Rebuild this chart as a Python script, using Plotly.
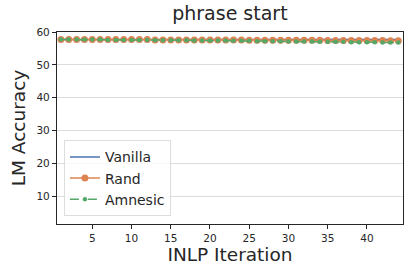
import plotly.graph_objects as go

iterations = list(range(1, 45))
vanilla = [57.7] * 44
rand = [57.7, 57.7, 57.7, 57.7, 57.7, 57.7, 57.7, 57.7, 57.7, 57.7,
        57.7, 57.7, 57.6, 57.6, 57.6, 57.6, 57.6, 57.6, 57.6, 57.6,
        57.6, 57.6, 57.6, 57.6, 57.5, 57.5, 57.5, 57.5, 57.5, 57.5,
        57.5, 57.5, 57.5, 57.5, 57.4, 57.4, 57.4, 57.4, 57.4, 57.4,
        57.4, 57.4, 57.3, 57.3]
amnesic = [57.7, 57.7, 57.7, 57.7, 57.7, 57.7, 57.6, 57.6, 57.6, 57.6,
           57.6, 57.6, 57.5, 57.5, 57.5, 57.5, 57.5, 57.4, 57.4, 57.4,
           57.4, 57.4, 57.3, 57.3, 57.3, 57.2, 57.2, 57.2, 57.2, 57.1,
           57.1, 57.1, 57.1, 57.0, 57.0, 57.0, 57.0, 56.9, 56.9, 56.9,
           56.9, 56.8, 56.8, 56.8]
y_ticks = [10, 20, 30, 40, 50, 60]
x_ticks = [5, 10, 15, 20, 25, 30, 35, 40]

font = "DejaVu Sans"
fig = go.Figure()
fig.add_trace(go.Scatter(x=iterations, y=vanilla, name="Vanilla", mode="lines",
                         line=dict(color="#4C72B0", width=1.5)))
fig.add_trace(go.Scatter(x=iterations, y=rand, name="Rand", mode="lines+markers",
                         line=dict(color="#DD8452", width=1.5),
                         marker=dict(color="#DD8452", size=7)))
fig.add_trace(go.Scatter(x=iterations, y=amnesic, name="Amnesic", mode="lines+markers",
                         line=dict(color="#55A868", width=1.5, dash="dash"),
                         marker=dict(color="#55A868", size=4.5)))

fig.update_layout(
    width=415, height=277,
    margin=dict(l=57, r=12, t=32, b=53, autoexpand=False),
    paper_bgcolor="white", plot_bgcolor="white",
    font=dict(family=font, color="#262626"),
    title=dict(text="phrase start", x=0.554, xanchor="center", y=0.975, yanchor="top",
               font=dict(size=19, color="#262626")),
    showlegend=True,
    legend=dict(x=0.02, y=0.04, xanchor="left", yanchor="bottom",
                bgcolor="rgba(255,255,255,0.8)", bordercolor="#dddddd", borderwidth=1,
                font=dict(size=14, color="#262626"), tracegroupgap=0, itemwidth=30),
)
fig.update_xaxes(range=[0.5, 44.6], tickvals=x_ticks, ticks="outside", ticklen=4,
                 tickcolor="#262626", tickfont=dict(size=10.5), automargin=False,
                 showgrid=False, zeroline=False,
                 showline=True, linecolor="#262626", linewidth=1.2, mirror=True,
                 title=dict(text="INLP Iteration", font=dict(size=18.5), standoff=2))
fig.update_yaxes(range=[1.5, 60], tickvals=y_ticks, ticks="outside", ticklen=4,
                 tickcolor="#262626", tickfont=dict(size=10.5), automargin=False,
                 showgrid=True, gridcolor="#dcdcdc", gridwidth=1, zeroline=False,
                 showline=True, linecolor="#262626", linewidth=1.2, mirror=True,
                 title=dict(text="LM Accuracy", font=dict(size=18.5), standoff=5))
fig.write_html("out.html", config={"displayModeBar": False},
               post_script="document.body.style.margin='0';document.body.style.overflow='hidden';")
